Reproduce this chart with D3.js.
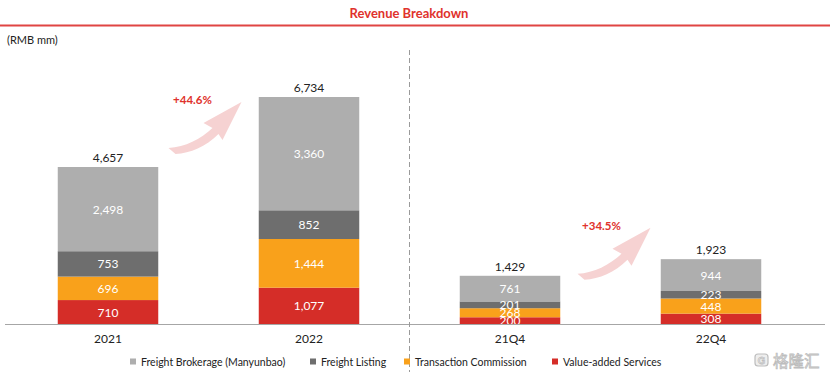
<!DOCTYPE html>
<html><head><meta charset="utf-8">
<script src="https://cdn.jsdelivr.net/npm/d3@7"></script>
<style>
html,body{margin:0;padding:0;background:#fff;}
svg{display:block;font-family:Lato,"Open Sans",sans-serif;}
</style></head>
<body>
<svg id="chart" width="830" height="381"></svg>
<script>
const categories = ["2021", "2022", "21Q4", "22Q4"];
const valueAdded = [710, 1077, 200, 308];
const transactionCommission = [696, 1444, 268, 448];
const freightListing = [753, 852, 201, 223];
const freightBrokerage = [2498, 3360, 761, 944];
const totals = [4657, 6734, 1429, 1923];
const seriesNames = ["Value-added Services", "Transaction Commission", "Freight Listing", "Freight Brokerage (Manyunbao)"];
const seriesColors = ["#D52D28", "#F9A11B", "#6E6E6E", "#AEAEAE"];
const legendOrder = [3, 2, 1, 0];
const growthLabels = ["+44.6%", "+34.5%"];
const growthPairs = [[0, 1], [2, 3]];
const growthArrowLevel = [5900, 2170];

const svg = d3.select("#chart");
const W = 830, H = 381;
const axisY = 324;

const x = d3.scaleBand().domain(categories).range([7.5, 811.5]).paddingInner(0.5).paddingOuter(0.25);
const y = d3.scaleLinear().domain([0, 7000]).range([axisY, 88]);

const table = categories.map((c, i) => ({
  cat: c,
  s0: valueAdded[i], s1: transactionCommission[i], s2: freightListing[i], s3: freightBrokerage[i]
}));
const keys = ["s0", "s1", "s2", "s3"];
const stacked = d3.stack().keys(keys)(table);

// title
svg.append("text").attr("x", 409).attr("y", 18).attr("text-anchor", "middle")
  .attr("font-size", 13).attr("font-weight", "bold").attr("fill", "#E0322C").text("Revenue Breakdown");
svg.append("line").attr("x1", 0).attr("x2", W).attr("y1", 25.5).attr("y2", 25.5)
  .attr("stroke", "#E04543").attr("stroke-width", 2);

svg.append("text").attr("x", 7).attr("y", 44).attr("font-size", 11).attr("fill", "#222").text("(RMB mm)");

// arrows
const arrowPath = "M-37,23 C-20,22 -5,14 7,3 L-2,-2 L36,-23 L17,15 L13,9 C0,22 -15,28 -30,29 Z";
growthPairs.forEach((p, i) => {
  const cx = (x(categories[p[0]]) + x(categories[p[1]]) + x.bandwidth()) / 2 + (i === 0 ? -3 : 4);
  const cy = y(growthArrowLevel[i]);
  svg.append("path").attr("d", arrowPath).attr("transform", `translate(${cx},${cy})`)
    .attr("fill", "#F6D2D2");
  svg.append("text").attr("x", cx - 13).attr("y", cy - 21).attr("text-anchor", "middle")
    .attr("font-size", 11.5).attr("font-weight", "bold").attr("fill", "#E0322C").text(growthLabels[i]);
});

// bars
const g = svg.append("g");
stacked.forEach((layer, li) => {
  g.selectAll(null).data(layer).enter().append("rect")
    .attr("x", d => x(d.data.cat))
    .attr("width", x.bandwidth())
    .attr("y", d => y(d[1]))
    .attr("height", d => y(d[0]) - y(d[1]))
    .attr("fill", seriesColors[li]);
});
stacked.forEach((layer, li) => {
  g.selectAll(null).data(layer).enter().append("text")
    .attr("x", d => x(d.data.cat) + x.bandwidth() / 2)
    .attr("y", d => (y(d[0]) + y(d[1])) / 2 + 4.5)
    .attr("text-anchor", "middle").attr("font-size", 12).attr("fill", "#fff")
    .text(d => d3.format(",")(d[1] - d[0]));
});
g.selectAll(null).data(categories).enter().append("text")
  .attr("x", d => x(d) + x.bandwidth() / 2)
  .attr("y", (d, i) => y(totals[i]) - 5)
  .attr("text-anchor", "middle").attr("font-size", 12).attr("fill", "#222")
  .text((d, i) => d3.format(",")(totals[i]));

// axis
const xAxis = svg.append("g").attr("transform", `translate(0,${axisY})`)
  .call(d3.axisBottom(x).tickSize(0).tickPadding(10));
xAxis.select(".domain").attr("d", `M5,0.5H825`).attr("stroke", "#A6A6A6").attr("stroke-width", 1.2);
xAxis.selectAll("text").attr("font-size", 12).attr("fill", "#222").attr("font-family", "Lato,sans-serif");

// divider
const divX = (x("2022") + x.bandwidth() + x("21Q4")) / 2;
svg.append("line").attr("x1", divX).attr("x2", divX).attr("y1", 50).attr("y2", 372)
  .attr("stroke", "#9A9A9A").attr("stroke-width", 1).attr("stroke-dasharray", "5,3");

// legend
const legendX = [130, 310, 404, 552];
const lg = svg.append("g");
legendOrder.forEach((si, k) => {
  lg.append("rect").attr("x", legendX[k]).attr("y", 358.5).attr("width", 6).attr("height", 6).attr("fill", seriesColors[si]);
  lg.append("text").attr("x", legendX[k] + 11).attr("y", 365.5).attr("font-size", 10.5).attr("fill", "#222").text(seriesNames[si]);
});

// watermark
const wm = svg.append("g");
wm.append("rect").attr("x", 755).attr("y", 354).attr("width", 13).attr("height", 12).attr("rx", 3)
  .attr("fill", "#eee").attr("stroke", "#bdbdbd").attr("stroke-width", 1.2);
wm.append("text").attr("x", 761.5).attr("y", 364).attr("text-anchor", "middle").attr("font-size", 10)
  .attr("font-weight", "bold").attr("fill", "#fff").attr("stroke", "#bdbdbd").attr("stroke-width", 0.8).text("G");
wm.append("text").attr("x", 773).attr("y", 366.5).attr("font-size", 15.5)
  .attr("font-family", "'Noto Sans CJK SC',sans-serif").attr("fill", "#f2f2f2").attr("stroke", "#bdbdbd").attr("stroke-width", 0.8)
  .text("格隆汇");
</script>
</body></html>
